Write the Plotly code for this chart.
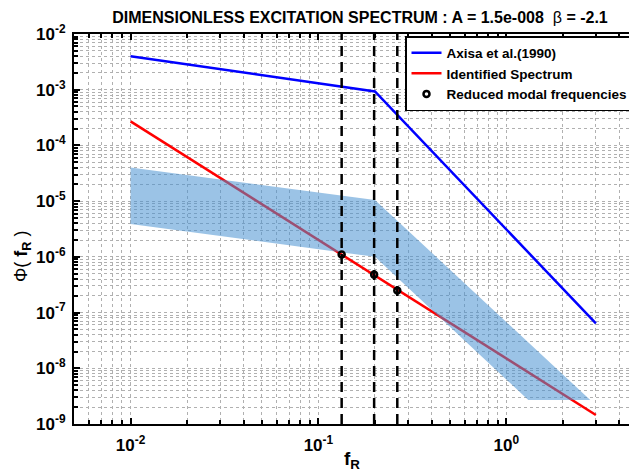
import plotly.graph_objects as go
import numpy as np

# ---------------- data ----------------
axisa_f = [0.01, 0.2, 3.0]
axisa_phi = [4.0e-3, 9.3e-4, 6.4e-8]

ident_f = [0.01, 3.0]
ident_phi = [2.7e-4, 1.45e-9]

modal_f = [0.133, 0.198, 0.263]
modal_phi = [1.1e-6, 4.8e-7, 2.5e-7]

band_f = [0.01, 0.2, 2.8, 1.31, 0.2, 0.01]
band_phi = [4.0e-5, 1.05e-5, 2.7e-9, 2.7e-9, 1.0e-6, 3.9e-6]

y_decades = [-9, -8, -7, -6, -5, -4, -3, -2]
x_decades = [-2, -1, 0]

FONT = "Liberation Sans"

fig = go.Figure()

# identified spectrum (under band)
fig.add_trace(go.Scatter(x=ident_f, y=ident_phi, mode="lines",
                         line=dict(color="#ff0000", width=2.5),
                         name="Identified Spectrum", legendrank=2))
# band
fig.add_trace(go.Scatter(x=band_f, y=band_phi, mode="lines", fill="toself",
                         fillcolor="rgba(73,145,209,0.55)", line=dict(width=0),
                         showlegend=False, hoverinfo="skip"))
# Axisa
fig.add_trace(go.Scatter(x=axisa_f, y=axisa_phi, mode="lines",
                         line=dict(color="#0000ff", width=2.5),
                         name="Axisa et al.(1990)", legendrank=1))
# dashed vertical lines at modal frequencies
for f in modal_f:
    fig.add_trace(go.Scatter(x=[f, f], y=[1e-9, 1e-2], mode="lines",
                             line=dict(color="black", width=2.5, dash="10px,6px"),
                             showlegend=False, hoverinfo="skip"))
# modal points
fig.add_trace(go.Scatter(x=modal_f, y=modal_phi, mode="markers",
                         marker=dict(symbol="circle-open", size=6, color="black",
                                     line=dict(width=2.5, color="black")),
                         name="Reduced modal frequencies", legendrank=3))

minor_x = [m * 10.0 ** e for e in range(-3, 2) for m in range(2, 10)]
minor_y = [m * 10.0 ** e for e in range(-10, -1) for m in range(2, 10)]

x_left = np.log10(0.005)
x_right = x_left + 555 / 187.85

fig.update_xaxes(type="log", range=[x_left, x_right],
                 tickvals=[10.0 ** e for e in x_decades],
                 ticktext=[f"10<sup>{e}</sup>" for e in x_decades],
                 ticks="inside", ticklen=6, tickwidth=1.5, tickcolor="black",
                 showline=True, linecolor="black", linewidth=2, mirror="ticks",
                 showgrid=True, gridcolor="#b0b0b0", griddash="dot", gridwidth=1,
                 minor=dict(tickvals=minor_x, ticks="inside", ticklen=4, tickcolor="black",
                            showgrid=True, gridcolor="#b0b0b0", griddash="dot", gridwidth=1),
                 tickfont=dict(family=FONT, size=17, color="black", weight="bold"),
                 ticklabelstandoff=5,
                 zeroline=False)
fig.update_yaxes(type="log", range=[-9, -2],
                 tickvals=[10.0 ** e for e in y_decades],
                 ticktext=[f"10<sup>{e}</sup>" for e in y_decades],
                 ticks="inside", ticklen=6, tickwidth=1.5, tickcolor="black",
                 showline=True, linecolor="black", linewidth=2, mirror=False,
                 showgrid=True, gridcolor="#b0b0b0", griddash="dot", gridwidth=1,
                 minor=dict(tickvals=minor_y, ticks="inside", ticklen=4, tickcolor="black",
                            showgrid=True, gridcolor="#b0b0b0", griddash="dot", gridwidth=1),
                 tickfont=dict(family=FONT, size=17, color="black", weight="bold"),
                 ticklabelstandoff=3,
                 zeroline=False)

fig.update_layout(
    width=629, height=476,
    margin=dict(l=74, r=0, t=34, b=52, autoexpand=False),
    plot_bgcolor="white", paper_bgcolor="white",
    font=dict(family=FONT, color="black"),
    title=dict(text="DIMENSIONLESS EXCITATION SPECTRUM : A = 1.5e-008  <span style='font-weight:normal'>β</span> = -2.1",
               x=360 / 629, xanchor="center", xref="container",
               y=1 - 17 / 476, yanchor="middle", yref="container",
               font=dict(family=FONT, size=16, color="black", weight="bold")),
    legend=dict(x=(405 - 74) / 555, y=1 - (36 - 34) / 390, xanchor="left", yanchor="top",
                bgcolor="white", bordercolor="black", borderwidth=1.5,
                font=dict(family=FONT, size=13.5, color="black", weight="bold"),
                tracegroupgap=0, itemwidth=30),
    showlegend=True,
)

fig.add_annotation(text="Φ( <b>f</b><sub><b>R</b></sub> )", textangle=-90,
                   xref="paper", yref="paper", x=(22 - 74) / 555, y=1 - (257 - 34) / 390,
                   xanchor="center", yanchor="middle", showarrow=False,
                   font=dict(family=FONT, size=18, color="black"))
fig.add_annotation(text="<b>f</b><sub><b>R</b></sub>",
                   xref="paper", yref="paper", x=(352 - 74) / 555, y=-(460 - 424) / 390,
                   xanchor="center", yanchor="middle", showarrow=False,
                   font=dict(family=FONT, size=19, color="black"))

fig.write_html("out.html")
